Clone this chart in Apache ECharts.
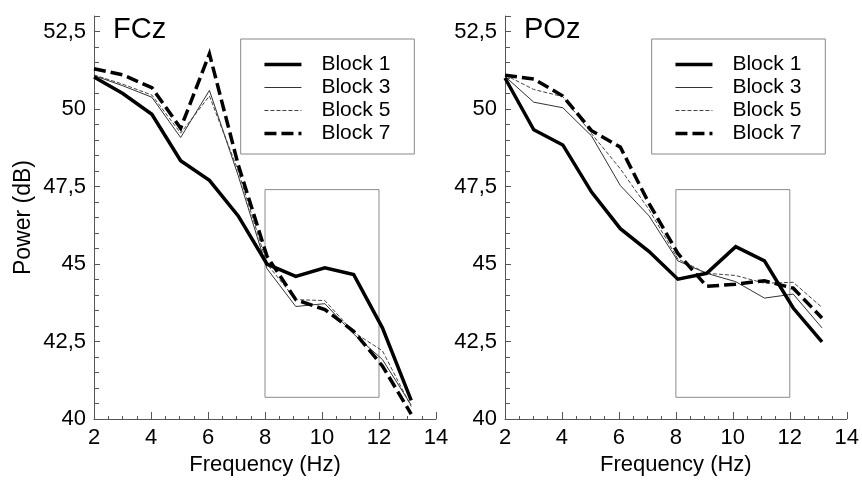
<!DOCTYPE html>
<html>
<head>
<meta charset="utf-8">
<script src="https://cdn.jsdelivr.net/npm/echarts@6/dist/echarts.min.js"></script>
<style>
html,body{margin:0;padding:0;background:#fff;}
#chart{width:862px;height:481px;}
</style>
</head>
<body>
<div id="chart"></div>
<script>
// ---- data ----
const freq = [2, 3.01, 4.03, 5.04, 6.05, 7.06, 8.07, 9.08, 10.1, 11.11, 12.12, 13.13];
const seriesNames = ['Block 1', 'Block 3', 'Block 5', 'Block 7'];
const panelTitles = ['FCz', 'POz'];

const fczBlock1 = [51.03, 50.5, 49.83, 48.33, 47.7, 46.55, 45.0, 44.6, 44.88, 44.66, 42.94, 40.6];
const fczBlock3 = [51.08, 50.75, 50.38, 49.08, 50.6, 47.85, 44.85, 43.63, 43.72, 42.74, 41.92, 40.45];
const fczBlock5 = [51.1, 50.8, 50.45, 49.22, 50.42, 48.0, 45.0, 43.85, 43.82, 42.8, 42.2, 40.4];
const fczBlock7 = [51.3, 51.1, 50.69, 49.38, 51.78, 48.2, 45.25, 43.85, 43.53, 42.83, 41.71, 40.16];

const pozBlock1 = [51.0, 49.33, 48.84, 47.32, 46.14, 45.4, 44.51, 44.7, 45.56, 45.1, 43.58, 42.49];
const pozBlock3 = [51.05, 50.22, 50.04, 49.13, 47.53, 46.55, 45.1, 44.7, 44.43, 43.9, 44.03, 42.94];
const pozBlock5 = [51.1, 50.63, 50.4, 49.2, 48.07, 46.75, 45.16, 44.7, 44.63, 44.38, 44.41, 43.6];
const pozBlock7 = [51.09, 50.97, 50.42, 49.3, 48.77, 46.95, 45.34, 44.28, 44.35, 44.46, 44.22, 43.26];

const boxX = [8, 12];
const boxY = [40.7, 47.4];

const xTicks = [2, 4, 6, 8, 10, 12, 14];
const yTicks = [40, 42.5, 45, 47.5, 50, 52.5];

// ---- styles ----
const FONT = 'Liberation Sans, Arial, sans-serif';
const styles = [
  {width: 3.5, type: 'solid', color: '#000'},
  {width: 1, type: 'solid', color: '#333'},
  {width: 1, type: [4, 2], color: '#444'},
  {width: 3.5, type: [12, 5], color: '#000'}
];

function pairs(vals) { return vals.map((v, i) => [freq[i], v]); }

const panels = [
  [fczBlock1, fczBlock3, fczBlock5, fczBlock7],
  [pozBlock1, pozBlock3, pozBlock5, pozBlock7]
];

const grids = [
  {left: 94, right: 426, top: 16, bottom: 59},
  {left: 505, right: 15, top: 16, bottom: 59}
];

const xAxes = grids.map((g, i) => ({
  type: 'value', gridIndex: i, min: xTicks[0], max: xTicks[xTicks.length - 1], interval: 2,
  name: 'Frequency (Hz)', nameLocation: 'middle', nameGap: 35,
  nameTextStyle: {fontFamily: FONT, fontSize: 22, color: '#000'},
  axisLine: {show: true, lineStyle: {color: '#555', width: 1}},
  axisTick: {show: true, inside: true, length: 7, lineStyle: {color: '#555'}},
  minorTick: {show: true, splitNumber: 4, length: 3, lineStyle: {color: '#555'}},
  axisLabel: {fontFamily: FONT, fontSize: 22, color: '#000', margin: 8},
  splitLine: {show: false}
}));

const yAxes = grids.map((g, i) => ({
  type: 'value', gridIndex: i, min: yTicks[0], max: 53, interval: 2.5,
  name: i === 0 ? 'Power (dB)' : '', nameLocation: 'middle', nameGap: 59,
  nameTextStyle: {fontFamily: FONT, fontSize: 23, color: '#000'},
  axisLine: {show: true, lineStyle: {color: '#555', width: 1}},
  axisTick: {show: true, inside: true, length: 6, lineStyle: {color: '#555'}},
  minorTick: {show: true, splitNumber: 5, length: 5, lineStyle: {color: '#555'}},
  axisLabel: {
    fontFamily: FONT, fontSize: 22, color: '#000', margin: 8, showMaxLabel: false,
    formatter: v => (yTicks.indexOf(v) >= 0 ? String(v).replace('.', ',') : '')
  },
  splitLine: {show: false}
}));

const series = [];
panels.forEach((blocks, p) => {
  blocks.forEach((vals, k) => {
    const s = {
      type: 'line', name: seriesNames[k], xAxisIndex: p, yAxisIndex: p,
      data: pairs(vals), symbol: 'none', showSymbol: false, animation: false,
      lineStyle: {width: styles[k].width, type: styles[k].type, color: styles[k].color, join: 'miter'},
      itemStyle: {color: styles[k].color},
      z: k === 0 || k === 3 ? 3 : 2
    };
    if (k === 0) {
      s.markArea = {
        silent: true,
        itemStyle: {color: 'rgba(0,0,0,0)', borderColor: '#8a8a8a', borderWidth: 1},
        data: [[{coord: [boxX[0], boxY[1]]}, {coord: [boxX[1], boxY[0]]}]]
      };
    }
    series.push(s);
  });
});

const legends = [240.7, 651.7].map(x => ({
  left: x, top: 39, orient: 'vertical',
  data: seriesNames,
  itemWidth: 37, itemHeight: 14, itemGap: 2,
  padding: [15, 24, 10, 22],
  borderColor: '#888', borderWidth: 1,
  backgroundColor: '#fff',
  textStyle: {fontFamily: FONT, fontSize: 21, color: '#000', padding: [0, 0, 0, 15]},
  lineStyle: {width: 'inherit'},
  itemStyle: {opacity: 0, borderWidth: 0},
  selectedMode: false
}));

const titles = [
  {text: panelTitles[0], left: 108, top: 10},
  {text: panelTitles[1], left: 519, top: 10}
].map(t => Object.assign(t, {textStyle: {fontFamily: FONT, fontSize: 29, fontWeight: 'normal', color: '#000'}}));

const chart = echarts.init(document.getElementById('chart'), null, {renderer: 'canvas'});
chart.setOption({
  animation: false,
  backgroundColor: '#fff',
  title: titles,
  grid: grids,
  xAxis: xAxes,
  yAxis: yAxes,
  legend: legends,
  series: series
});
</script>
</body>
</html>
